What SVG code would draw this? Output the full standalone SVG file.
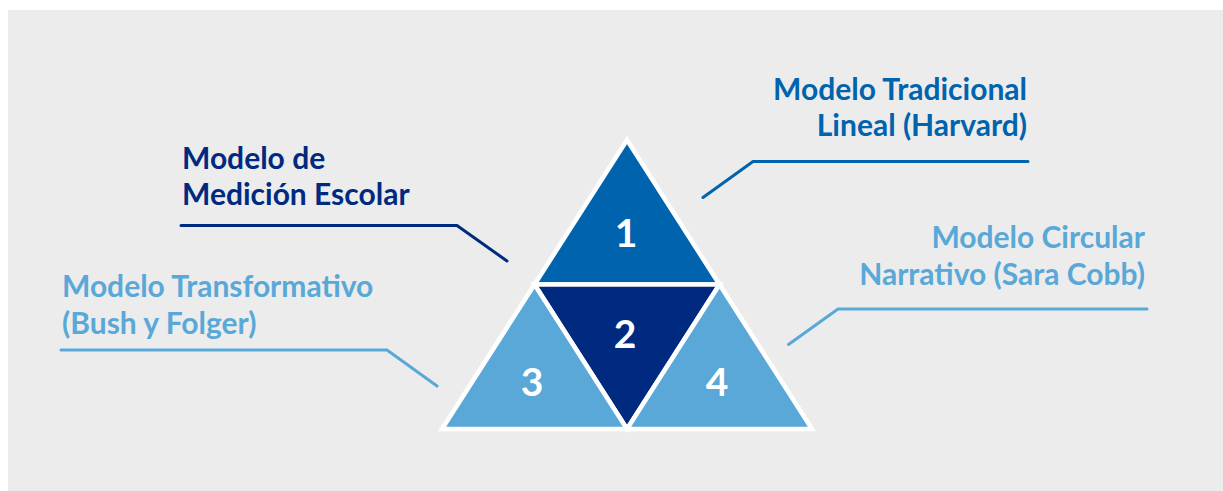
<svg xmlns="http://www.w3.org/2000/svg" width="1223" height="491" viewBox="0 0 1223 491">
<style>
.lbl{font-family:Lato,"Open Sans","Liberation Sans",sans-serif;font-size:30px;font-weight:bold}
.num{font-family:Lato,"Open Sans","Liberation Sans",sans-serif;font-size:39px;font-weight:bold;fill:#ffffff;text-anchor:middle}
.tri{stroke:#ffffff;stroke-width:4.5;stroke-linejoin:miter}
.con{fill:none;stroke-width:3;stroke-linecap:round;stroke-linejoin:miter}
</style>
<rect x="8" y="10" width="1215" height="481" fill="#ECECEC"/>
<g id="connectors">
<polyline class="con" stroke="#0063AE" points="703,197.5 753,161.5 1028,161.5"/>
<polyline class="con" stroke="#002A80" points="181,225.5 457,225.5 507,261"/>
<polyline class="con" stroke="#59A8D8" points="61,350 387,350 437,386"/>
<polyline class="con" stroke="#59A8D8" points="788.5,344.5 838,309 1147,309"/>
</g>
<g id="node1">
<polygon class="tri" fill="#0063AE" points="627,140 534.5,284.5 719.5,284.5"/>
<text class="num" x="626" y="247">1</text>
</g>
<g id="node2">
<polygon class="tri" fill="#002A80" points="534.5,284.5 719.5,284.5 627,429"/>
<text class="num" x="625" y="348">2</text>
</g>
<g id="node3">
<polygon class="tri" fill="#59A8D8" points="534.5,284.5 442,429 627,429"/>
<text class="num" x="532" y="396">3</text>
</g>
<g id="node4">
<polygon class="tri" fill="#59A8D8" points="719.5,284.5 627,429 812,429"/>
<text class="num" x="717" y="396">4</text>
</g>
<g id="label1">
<text class="lbl" fill="#0063AE" text-anchor="end" x="1027" y="100">Modelo Tradicional</text>
<text class="lbl" fill="#0063AE" text-anchor="end" x="1027" y="136">Lineal (Harvard)</text>
</g>
<g id="label2">
<text class="lbl" fill="#002A80" x="182" y="168.5">Modelo de</text>
<text class="lbl" fill="#002A80" x="182" y="205">Medición Escolar</text>
</g>
<g id="label3">
<text class="lbl" fill="#59A8D8" x="62" y="297">Modelo Transformativo</text>
<text class="lbl" fill="#59A8D8" x="62" y="334">(Bush y Folger)</text>
</g>
<g id="label4">
<text class="lbl" fill="#59A8D8" text-anchor="end" x="1145" y="247.5">Modelo Circular</text>
<text class="lbl" fill="#59A8D8" text-anchor="end" x="1145" y="285">Narrativo (Sara Cobb)</text>
</g>
</svg>
